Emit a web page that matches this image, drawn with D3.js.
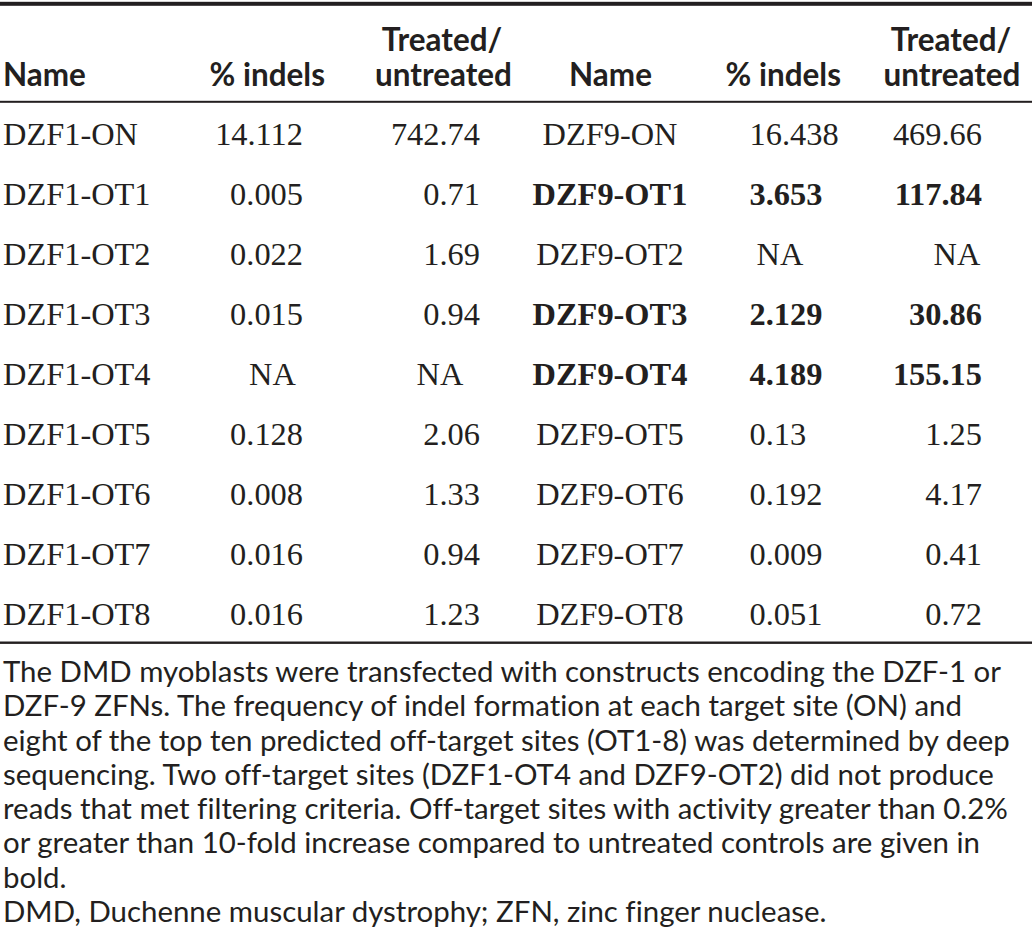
<!DOCTYPE html>
<html>
<head>
<meta charset="utf-8">
<script src="https://cdn.jsdelivr.net/npm/d3@7"></script>
<style>
  html, body { margin: 0; padding: 0; background: #fff; }
  svg { display: block; }
  text { font-variant-ligatures: none; font-feature-settings: "liga" 0, "clig" 0; }
</style>
</head>
<body>
<div id="chart"></div>
<script>
// ---- data ----
const headers = ["Name", "% indels", "Treated/", "untreated"];
const names1 = ["DZF1-ON", "DZF1-OT1", "DZF1-OT2", "DZF1-OT3", "DZF1-OT4", "DZF1-OT5", "DZF1-OT6", "DZF1-OT7", "DZF1-OT8"];
const indels1 = ["14.112", "0.005", "0.022", "0.015", "NA", "0.128", "0.008", "0.016", "0.016"];
const ratio1 = ["742.74", "0.71", "1.69", "0.94", "NA", "2.06", "1.33", "0.94", "1.23"];
const names9 = ["DZF9-ON", "DZF9-OT1", "DZF9-OT2", "DZF9-OT3", "DZF9-OT4", "DZF9-OT5", "DZF9-OT6", "DZF9-OT7", "DZF9-OT8"];
const indels9 = ["16.438", "3.653", "NA", "2.129", "4.189", "0.13", "0.192", "0.009", "0.051"];
const ratio9 = ["469.66", "117.84", "NA", "30.86", "155.15", "1.25", "4.17", "0.41", "0.72"];
const bold9 = [false, true, false, true, true, false, false, false, false];
const captionLines = [
  "The DMD myoblasts were transfected with constructs encoding the DZF-1 or",
  "DZF-9 ZFNs. The frequency of indel formation at each target site (ON) and",
  "eight of the top ten predicted off-target sites (OT1-8) was determined by deep",
  "sequencing. Two off-target sites (DZF1-OT4 and DZF9-OT2) did not produce",
  "reads that met filtering criteria. Off-target sites with activity greater than 0.2%",
  "or greater than 10-fold increase compared to untreated controls are given in",
  "bold.",
  "DMD, Duchenne muscular dystrophy; ZFN, zinc finger nuclease."
];

// ---- layout ----
const W = 1036, H = 934;
const ink = "#231f20";
const SERIF = "'Liberation Serif', 'Times New Roman', serif";
const SANS = "Lato, 'Open Sans', sans-serif";

const svg = d3.select("#chart").append("svg")
  .attr("width", W).attr("height", H);

// fit a font size so reference strings have the target total width
function fitSize(family, weight, texts, target) {
  let w = 0;
  texts.forEach(s => {
    const t = svg.append("text").attr("font-family", family)
      .attr("font-weight", weight).attr("font-size", 100).text(s);
    w += t.node().getComputedTextLength();
    t.remove();
  });
  return 100 * target / w;
}
const serifSize = fitSize(SERIF, "normal", ["DZF1-ON"], 135);
const headSize = fitSize(SANS, "bold", ["untreated"], 137);
const capSize = fitSize(SANS, "normal", [captionLines[0], captionLines[2], captionLines[4]], 993 + 1013 + 1005);

const y = d3.scalePoint().domain(d3.range(names1.length)).range([145, 625]);
const capY = d3.scalePoint().domain(d3.range(captionLines.length)).range([682, 922]);

// rules
svg.append("rect").attr("x", 0).attr("y", 1.8).attr("width", 1032).attr("height", 4).attr("fill", ink);
svg.append("rect").attr("x", 0).attr("y", 100.8).attr("width", 1032).attr("height", 2).attr("fill", ink);
svg.append("rect").attr("x", 0).attr("y", 641.5).attr("width", 1032).attr("height", 2.4).attr("fill", ink);

// headers
const hg = svg.append("g").attr("font-family", SANS).attr("font-weight", "bold")
  .attr("font-size", headSize).attr("fill", ink);
const headBase = 86, headTop = 51;
const headItems = [
  {t: headers[0], x: 3, a: "start", yy: headBase},
  {t: headers[1], x: 325, a: "end", yy: headBase},
  {t: headers[2], x: 442, a: "middle", yy: headTop},
  {t: headers[3], x: 443.5, a: "middle", yy: headBase},
  {t: headers[0], x: 610.5, a: "middle", yy: headBase},
  {t: headers[1], x: 841, a: "end", yy: headBase},
  {t: headers[2], x: 951, a: "middle", yy: headTop},
  {t: headers[3], x: 952, a: "middle", yy: headBase}
];
hg.selectAll("text").data(headItems).join("text")
  .attr("x", d => d.x).attr("y", d => d.yy).attr("text-anchor", d => d.a).text(d => d.t);

// body cells
const bg = svg.append("g").attr("font-family", SERIF).attr("font-size", serifSize).attr("fill", ink);
function col(values, xFn, anchorFn, boldArr) {
  bg.append("g").selectAll("text").data(values).join("text")
    .attr("x", (d) => xFn(d)).attr("y", (d, i) => y(i))
    .attr("text-anchor", d => anchorFn(d))
    .attr("font-weight", (d, i) => boldArr && boldArr[i] ? "bold" : "normal")
    .text(d => d);
}
col(names1, () => 3, () => "start");
col(indels1, d => d === "NA" ? 272.5 : 303, d => d === "NA" ? "middle" : "end");
col(ratio1, d => d === "NA" ? 440 : 480, d => d === "NA" ? "middle" : "end");
col(names9, () => 610, () => "middle", bold9);
col(indels9, d => d === "NA" ? 780 : 749.5, d => d === "NA" ? "middle" : "start", bold9);
col(ratio9, d => d === "NA" ? 957 : 982, d => d === "NA" ? "middle" : "end", bold9);

// caption
svg.append("g").attr("font-family", SANS).attr("font-size", capSize).attr("fill", ink)
  .selectAll("text").data(captionLines).join("text")
  .attr("x", 3).attr("y", (d, i) => capY(i)).text(d => d);
</script>
</body>
</html>
